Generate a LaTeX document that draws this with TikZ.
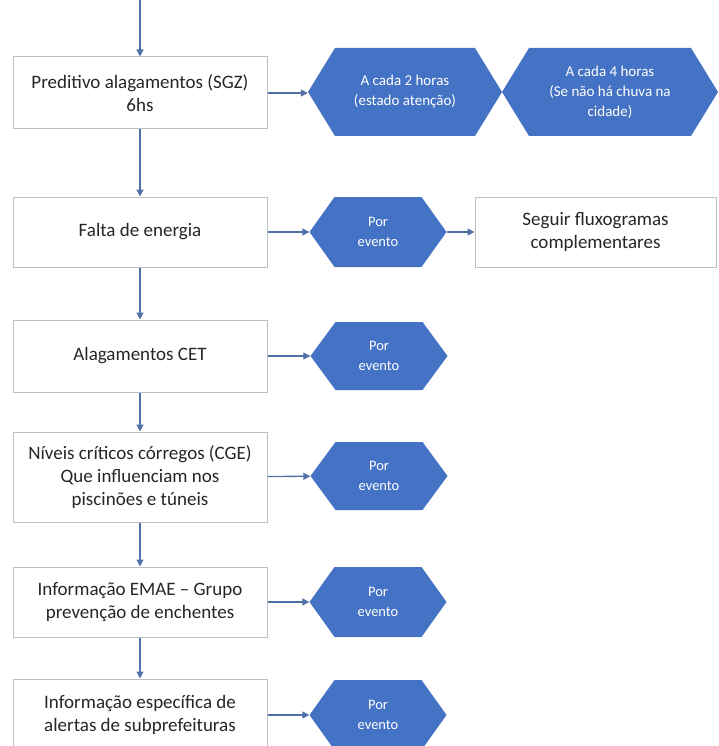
\documentclass[tikz,border=0pt]{standalone}
\usepackage{fontspec}
\setmainfont{Carlito}
\usetikzlibrary{arrows.meta}
\definecolor{hexblue}{HTML}{4472C4}
\definecolor{arrowc}{HTML}{4F71A8}
\definecolor{boxline}{HTML}{BFBFBF}
\definecolor{txt}{HTML}{262626}
\begin{document}
\begin{tikzpicture}[x=1pt,y=-1pt,
  procbox/.style={draw=boxline, line width=1pt, fill=white, minimum width=254pt,
    align=center, text=txt, font=\fontsize{19}{23}\selectfont, inner sep=0pt},
  hexbox/.style={inner sep=0pt, text=white, align=center,
    path picture={\fill[hexblue] (path picture bounding box.west)
      -- ([xshift=#1]path picture bounding box.north west)
      -- ([xshift=-#1]path picture bounding box.north east)
      -- (path picture bounding box.east)
      -- ([xshift=-#1]path picture bounding box.south east)
      -- ([xshift=#1]path picture bounding box.south west) -- cycle;}},
  bighex/.style={hexbox=27pt, font=\fontsize{15}{20}\selectfont, minimum height=88pt},
  smallhex/.style={hexbox=25pt, font=\fontsize{14.5}{20}\selectfont, minimum width=137pt},
  arr/.style={draw=arrowc, line width=1.3pt, -{Triangle[length=7pt,width=7pt]}}]
\useasboundingbox (0,0) rectangle (719,746);

% left column
\node[procbox, minimum height=72pt] (b1) at (140,93) {Preditivo alagamentos (SGZ)\\6hs};
\node[procbox, minimum height=70pt] (b2) at (140,232) {Falta de energia};
\node[procbox, minimum height=72pt] (b3) at (140,356) {Alagamentos CET};
\node[procbox, minimum height=90pt] (b4) at (140,477) {Níveis críticos córregos (CGE)\\Que influenciam nos\\piscinões e túneis};
\node[procbox, minimum height=70pt] (b5) at (140,602) {Informação EMAE – Grupo\\prevenção de enchentes};
\node[procbox, minimum height=72pt] (b6) at (140,715) {Informação específica de\\alertas de subprefeituras};

% right column
\node[bighex, minimum width=194pt] (h1) at (405,92) {A cada 2 horas\\(estado atenção)};
\node[bighex, minimum width=216pt] (h2) at (610,92) {A cada 4 horas\\(Se não há chuva na\\cidade)};
\node[smallhex, minimum height=70pt] (e2) at (378,232) {Por\\evento};
\node[procbox, minimum width=241pt, minimum height=70pt] (s2) at (595.5,232) {Seguir fluxogramas\\complementares};
\node[smallhex, minimum height=68pt] (e3) at (379,356) {Por\\evento};
\node[smallhex, minimum height=68pt] (e4) at (379,476) {Por\\evento};
\node[smallhex, minimum height=70pt] (e5) at (378,602) {Por\\evento};
\node[smallhex, minimum height=70pt] (e6) at (378,715) {Por\\evento};

\coordinate (top) at (140,0);

% vertical arrows
\draw[arr] (top) -- (b1.north);
\draw[arr] (b1) -- (b2);
\draw[arr] (b2) -- (b3);
\draw[arr] (b3) -- (b4);
\draw[arr] (b4) -- (b5);
\draw[arr] (b5) -- (b6);

% horizontal arrows
\draw[arr] (b1.east) -- (b1.east -| h1.west);
\draw[arr] (b2) -- (e2);
\draw[arr] (e2) -- (s2);
\draw[arr] (b3) -- (e3);
\draw[arr] (b4) -- (e4);
\draw[arr] (b5) -- (e5);
\draw[arr] (b6) -- (e6);
\end{tikzpicture}
\end{document}
